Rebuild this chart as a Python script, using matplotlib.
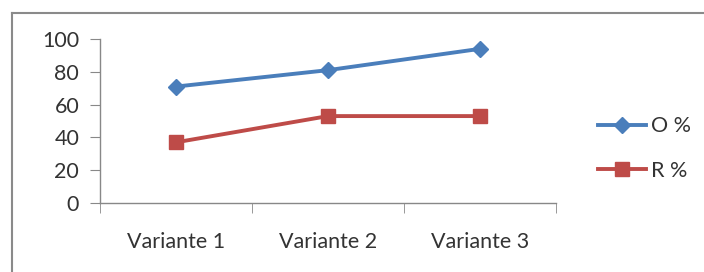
import matplotlib.pyplot as plt

categories = ["Variante 1", "Variante 2", "Variante 3"]
o_pct = [71, 81, 94]
r_pct = [37, 53, 53]
yticks = [0, 20, 40, 60, 80, 100]

plt.rcParams['font.family'] = ['Lato', 'DejaVu Sans']

fig = plt.figure(figsize=(7.04, 2.72), dpi=100)
ax = fig.add_axes([100 / 704, 69 / 272, 456 / 704, 164 / 272])

x = range(len(categories))
ax.plot(x, o_pct, color='#4A7EBB', lw=2.8, marker='D', ms=8.5, label='O %')
ax.plot(x, r_pct, color='#BE4B48', lw=2.8, marker='s', ms=10.5, label='R %')

ax.set_xlim(-0.5, 2.5)
ax.set_ylim(0, 100)
ax.set_yticks(yticks)
ax.set_xticks(list(x))
ax.set_xticklabels(categories)
ax.set_xticks([-0.5, 0.5, 1.5, 2.5], minor=True)
ax.tick_params(axis='x', which='major', length=0, pad=21, labelsize=15.5, colors='#333333')
ax.tick_params(axis='x', which='minor', length=7, color='#888888', direction='out')
ax.tick_params(axis='y', length=7, labelsize=15.5, colors='#333333', pad=8)
ax.tick_params(axis='y', color='#888888')
for s in ['top', 'right']:
    ax.spines[s].set_visible(False)
for s in ['left', 'bottom']:
    ax.spines[s].set_color('#888888')
    ax.spines[s].set_linewidth(1.0)

leg = ax.legend(loc='center left', bbox_to_anchor=(587 / 704, (272 - 148.5) / 272),
                bbox_transform=fig.transFigure, frameon=False, fontsize=15.5,
                handlelength=2.25, handletextpad=0.2, labelspacing=1.15, borderpad=0)
for t in leg.get_texts():
    t.set_color('#333333')

# outer frame (top and left edges visible)
fig.add_artist(plt.Line2D([11.5 / 704, 11.5 / 704], [0, (272 - 12.5) / 272], transform=fig.transFigure, color='#8a8a8a', lw=1.5))
fig.add_artist(plt.Line2D([11.5 / 704, 1], [(272 - 12.5) / 272, (272 - 12.5) / 272], transform=fig.transFigure, color='#8a8a8a', lw=1.5))

fig.savefig('out.png', dpi=100)
